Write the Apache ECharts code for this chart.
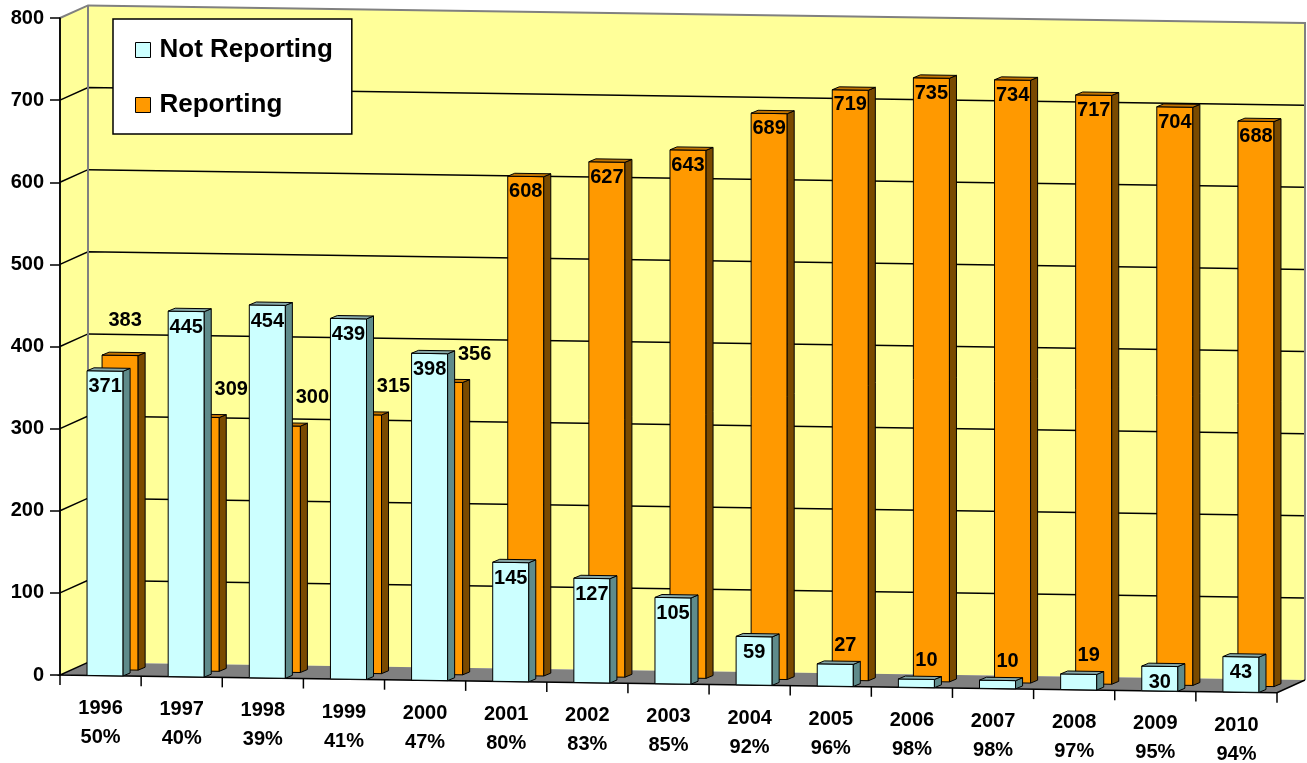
<!DOCTYPE html>
<html>
<head>
<meta charset="utf-8">
<script src="https://cdn.jsdelivr.net/npm/echarts@6/dist/echarts.min.js"></script>
<style>
html,body{margin:0;padding:0;background:#fff;}
#chart{width:1307px;height:763px;}
</style>
</head>
<body>
<div id="chart"></div>
<script>
// ---- data ----
const years = ['1996','1997','1998','1999','2000','2001','2002','2003','2004','2005','2006','2007','2008','2009','2010'];
const percents = [50, 40, 39, 41, 47, 80, 83, 85, 92, 96, 98, 98, 97, 95, 94];
const notReporting = [371, 445, 454, 439, 398, 145, 127, 105, 59, 27, 10, 10, 19, 30, 43];
const reporting = [383, 309, 300, 315, 356, 608, 627, 643, 689, 719, 735, 734, 717, 704, 688];
const yMin = 0, yMax = 800, yStep = 100;

// ---- style / geometry ----
const FONT = '"Liberation Sans", Arial, Helvetica, sans-serif';
const K = 0.0145;          // perspective tilt of the floor
const DX = 28, DY = -13;   // wall depth vector
const BDX = 7, BDY = -3;   // bar depth vector

function geom(api) {
  const c0 = api.coord([0, 0]);
  const bw = api.size([1, 0])[0];
  const x0 = c0[0] - bw / 2;
  const x1 = x0 + bw * years.length;
  const Y = v => api.coord([0, v])[1];
  const P = (x, v, d) => { const xx = x + DX * d; return [xx, Y(v) + DY * d + K * (xx - x0)]; };
  return { bw, x0, x1, Y, P };
}

function renderBackground(params, api) {
  const g = geom(api);
  const ch = [];
  const wall = '#FFFF99';
  ch.push({ type: 'polygon', shape: { points: [g.P(g.x0, yMin, 0), g.P(g.x0, yMin, 1), g.P(g.x0, yMax, 1), g.P(g.x0, yMax, 0)] }, style: { fill: wall } });
  ch.push({ type: 'polygon', shape: { points: [g.P(g.x0, yMin, 1), g.P(g.x1, yMin, 1), g.P(g.x1, yMax, 1), g.P(g.x0, yMax, 1)] }, style: { fill: wall } });
  for (let v = yMin + yStep; v < yMax; v += yStep) {
    ch.push({ type: 'polyline', shape: { points: [g.P(g.x0, v, 0), g.P(g.x0, v, 1), g.P(g.x1, v, 1)] }, style: { stroke: '#000', lineWidth: 1.5, fill: null } });
  }
  // floor
  ch.push({ type: 'polygon', shape: { points: [g.P(g.x0, yMin, 0), g.P(g.x1, yMin, 0), g.P(g.x1, yMin, 1), g.P(g.x0, yMin, 1)] }, style: { fill: '#808080' } });
  // wall edges (grey)
  ch.push({ type: 'polyline', shape: { points: [g.P(g.x0, yMax, 0), g.P(g.x0, yMax, 1), g.P(g.x1, yMax, 1), g.P(g.x1, yMin, 1)] }, style: { stroke: '#808080', lineWidth: 2, fill: null } });
  ch.push({ type: 'polyline', shape: { points: [g.P(g.x0, yMax, 1), g.P(g.x0, yMin, 1)] }, style: { stroke: '#808080', lineWidth: 2, fill: null } });
  // floor edges (black)
  ch.push({ type: 'polyline', shape: { points: [g.P(g.x0, yMin, 1), g.P(g.x0, yMin, 0), g.P(g.x1, yMin, 0), g.P(g.x1, yMin, 1)] }, style: { stroke: '#000', lineWidth: 1.5, fill: null } });
  // category ticks and labels
  for (let i = 0; i <= years.length; i++) {
    const p = g.P(g.x0 + i * g.bw, yMin, 0);
    ch.push({ type: 'line', shape: { x1: p[0], y1: p[1], x2: p[0], y2: p[1] + 10 }, style: { stroke: '#000', lineWidth: 1.5 } });
  }
  for (let i = 0; i < years.length; i++) {
    const p = g.P(g.x0 + (i + 0.5) * g.bw, yMin, 0);
    ch.push({ type: 'text', style: { text: years[i], x: p[0], y: p[1] + 33, align: 'center', verticalAlign: 'middle', font: 'bold 20px ' + FONT, fill: '#000' } });
    ch.push({ type: 'text', style: { text: percents[i] + '%', x: p[0], y: p[1] + 62, align: 'center', verticalAlign: 'middle', font: 'bold 20px ' + FONT, fill: '#000' } });
  }
  // front y axis line
  ch.push({ type: 'line', shape: { x1: g.x0, y1: g.Y(yMin), x2: g.x0, y2: g.Y(yMax) }, style: { stroke: '#000', lineWidth: 1.5 } });
  return { type: 'group', children: ch };
}

function makeBarRenderer(kind) {
  const isN = kind === 'N';
  const cols = isN ? { front: '#CCFFFF', side: '#5F8B8B', top: '#86A8A8' }
                   : { front: '#FF9900', side: '#7A4A00', top: '#C27400' };
  return function (params, api) {
    const g = geom(api);
    const i = api.value(0), v = api.value(1);
    const s = g.bw / 81;
    const L = g.x0 + i * g.bw;
    const xl = L + (isN ? 27 : 42) * s, xr = xl + 36 * s;
    const lift = isN ? 0 : 6;
    const q = (x, val, dz) => { const xx = x + BDX * dz; return [xx, g.Y(val) + BDY * dz + K * (xx - g.x0) - lift]; };
    const st = fill => ({ fill: fill, stroke: '#000', lineWidth: 1, lineJoin: 'round' });
    const ch = [
      { type: 'polygon', shape: { points: [q(xl, 0, 0), q(xr, 0, 0), q(xr, v, 0), q(xl, v, 0)] }, style: st(cols.front) },
      { type: 'polygon', shape: { points: [q(xr, 0, 0), q(xr, 0, 1), q(xr, v, 1), q(xr, v, 0)] }, style: st(cols.side) },
      { type: 'polygon', shape: { points: [q(xl, v, 0), q(xr, v, 0), q(xr, v, 1), q(xl, v, 1)] }, style: st(cols.top) }
    ];
    const mid = (xl + xr) / 2;
    const top = q(mid, v, 0)[1];
    let lx = mid, ly;
    if (isN) {
      if (v >= 30) { ly = top + 16; } else { lx = mid + 10; ly = top - 19; }
    } else {
      const other = notReporting[i];
      if (v - other > 60) { ly = top + 15; }
      else if (v > other) { lx = mid + 5; ly = top - 35; }
      else { lx = mid + 30; ly = top - 28; }
    }
    ch.push({ type: 'text', z2: 10, style: { text: String(v), x: lx, y: ly, align: 'center', verticalAlign: 'middle', font: 'bold 20px ' + FONT, fill: '#000' } });
    return { type: 'group', children: ch };
  };
}

const chart = echarts.init(document.getElementById('chart'));
chart.setOption({
  animation: false,
  backgroundColor: '#ffffff',
  grid: { left: 60, right: 30, top: 18, bottom: 88 },
  xAxis: { type: 'category', data: years, show: false, boundaryGap: true },
  yAxis: {
    type: 'value', min: yMin, max: yMax, interval: yStep, z: 10,
    axisLine: { show: true, lineStyle: { color: '#000', width: 1.5 } },
    axisTick: { show: true, length: 10, lineStyle: { color: '#000', width: 1.5 } },
    axisLabel: { fontSize: 20, fontWeight: 'bold', fontFamily: FONT, color: '#000', margin: 16 },
    splitLine: { show: false }
  },
  legend: {
    data: ['Not Reporting', 'Reporting'],
    orient: 'vertical', left: 113, top: 19, z: 20,
    backgroundColor: '#ffffff', borderColor: '#000', borderWidth: 1.5,
    padding: [18, 19, 16, 22],
    itemWidth: 15, itemHeight: 15, itemGap: 29,
    icon: 'rect',
    itemStyle: { borderColor: '#000', borderWidth: 1 },
    textStyle: { fontSize: 26, fontWeight: 'bold', fontFamily: FONT, color: '#000', padding: [0, 0, 0, 4] },
    selectedMode: false
  },
  series: [
    { type: 'custom', name: 'wall', silent: true, z: 1, data: [[0, 0]], renderItem: renderBackground },
    { type: 'custom', name: 'Reporting', z: 2, itemStyle: { color: '#FF9900' }, data: reporting.map((v, i) => [i, v]), renderItem: makeBarRenderer('R') },
    { type: 'custom', name: 'Not Reporting', z: 3, itemStyle: { color: '#CCFFFF' }, data: notReporting.map((v, i) => [i, v]), renderItem: makeBarRenderer('N') }
  ]
});
</script>
</body>
</html>
